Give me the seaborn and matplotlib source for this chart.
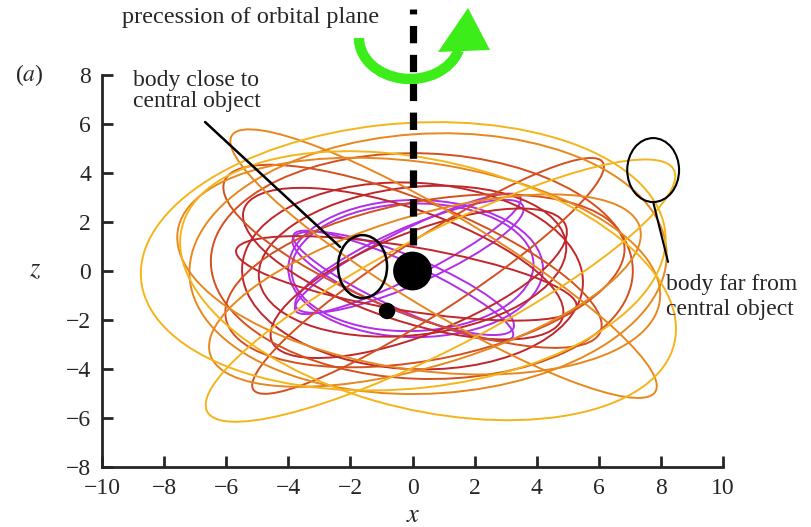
import numpy as np
import pandas as pd
import matplotlib
matplotlib.use("Agg")
import matplotlib.pyplot as plt
from matplotlib.patches import Ellipse, Arc, Polygon
import seaborn as sns

# ---- orbit loops: centre (x, z), semi-axes, tilt (deg), colour group ----
orbit_cx    = [0.1, 0.0, -0.15, -0.1, -0.3, -0.3,
               0.0, -0.3, 0.2, 0.0, -0.2,
               0.3, 0.5, 0.0, 0.4,
               0.5, 1.0, 0.4, 0.2,
               -0.3, 0.9, 0.5]
orbit_cz    = [0.1, 0.15, 0.7, 0.6, -0.6, -0.5,
               -0.2, 0.3, -0.5, 0.4, -0.3,
               0.2, -0.2, 0.6, -0.4,
               0.3, 0.3, -0.8, 0.2,
               0.6, -0.8, -0.6]
orbit_a     = [4.1, 3.9, 4.3, 4.2, 4.1, 4.0,
               5.5, 5.6, 5.3, 5.0, 5.6,
               6.8, 7.3, 6.8, 6.6,
               7.7, 8.6, 7.4, 7.9,
               8.5, 9.0, 8.3]
orbit_b     = [2.8, 2.6, 0.9, 1.1, 0.9, 1.1,
               3.8, 2.2, 2.0, 3.0, 1.3,
               4.6, 1.4, 2.2, 3.2,
               5.3, 1.8, 3.0, 4.2,
               5.4, 2.2, 5.0]
orbit_angle = [0, 3, 33, 30, -31, -28,
               -5, -25, 28, 10, -12,
               -3, 40, -28, 15,
               5, -38, 22, -12,
               8, 34, -20]
orbit_group = (["purple"] * 6 + ["darkred"] * 5 + ["redorange"] * 4
               + ["orange"] * 4 + ["yellow"] * 3)

group_colors = {
    "purple": "#b22ee8",
    "darkred": "#c0262a",
    "redorange": "#d4501e",
    "orange": "#e8871e",
    "yellow": "#f4b41a",
}

# central object and close companion
body_x = [0.0, -0.82]
body_z = [0.0, -1.63]
body_size = [780, 140]

x_ticks = [-10, -8, -6, -4, -2, 0, 2, 4, 6, 8, 10]
z_ticks = [-8, -6, -4, -2, 0, 2, 4, 6, 8]

sns.set_style("ticks")
plt.rcParams["font.family"] = ["Liberation Serif", "DejaVu Serif"]
plt.rcParams["mathtext.fontset"] = "stix"

fig = plt.figure(figsize=(8.11, 5.27), dpi=100)
ax = fig.add_axes([0.1258, 0.1138, 0.7657, 0.7439])

orbits = pd.DataFrame({
    "cx": orbit_cx, "cz": orbit_cz, "a": orbit_a, "b": orbit_b,
    "angle": orbit_angle, "group": orbit_group,
})
for _, row in orbits.iterrows():
    ax.add_patch(Ellipse((row.cx, row.cz), 2 * row.a, 2 * row.b, angle=row.angle,
                         fill=False, ec=group_colors[row.group], lw=1.4, zorder=2))

bodies = pd.DataFrame({"x": body_x, "z": body_z, "s": body_size})
sns.scatterplot(data=bodies, x="x", y="z", size="s", sizes=(140, 780),
                color="black", edgecolor="none", legend=False, ax=ax, zorder=5)

# precession axis
ax.plot([0, 0], [1.05, 10.7], color="black", lw=5.2, dashes=(2.4, 1.6),
        clip_on=False, zorder=4, solid_capstyle="butt", dash_capstyle="butt")

# annotation rings
ax.add_patch(Ellipse((-1.61, 0.18), 1.58, 2.57, fill=False, ec="black", lw=1.8, zorder=6))
ax.plot([-6.68, -2.33], [6.08, 0.98], color="black", lw=1.8, zorder=6)
ax.add_patch(Ellipse((7.75, 4.12), 1.67, 2.61, fill=False, ec="black", lw=1.5, zorder=6,
                     clip_on=False))
ax.plot([7.75, 8.23], [2.82, 0.37], color="black", lw=1.5, zorder=6, clip_on=False)

ax.set_xlim(-10, 10)
ax.set_ylim(-8, 8)
ax.set_xticks(x_ticks)
ax.set_yticks(z_ticks)
ax.set_xticklabels([f"\u2212{abs(v)}" if v < 0 else str(v) for v in x_ticks])
ax.set_yticklabels([f"\u2212{abs(v)}" if v < 0 else str(v) for v in z_ticks])
ax.tick_params(direction="in", length=8, width=2, labelsize=17, pad=8)
sns.despine(ax=ax)
for sp in ("left", "bottom"):
    ax.spines[sp].set_linewidth(2)
ax.set_xlabel("")
ax.set_ylabel("")

# figure text
fig.text(35 / 811, 1 - 270 / 527, "$z$", fontsize=19, ha="center", va="center")
fig.text(413 / 811, 1 - 516 / 527, "$x$", fontsize=19, ha="center", va="center")
fig.text(29 / 811, 1 - 75 / 527, "($a$)", fontsize=17, ha="center", va="center")
fig.text(122 / 811, 1 - 17 / 527, "precession of orbital plane", fontsize=17.5,
         ha="left", va="center")
fig.text(133 / 811, 1 - 91 / 527, "body close to\ncentral object", fontsize=17,
         ha="left", va="center", linespacing=1.05)
fig.text(666 / 811, 1 - 297 / 527, "body far from\ncentral object", fontsize=17,
         ha="left", va="center", linespacing=1.2)

# green precession arrow drawn on a pixel-space overlay
over = fig.add_axes([0, 0, 1, 1], zorder=10)
over.set_xlim(0, 811)
over.set_ylim(527, 0)
over.axis("off")
green = "#3ded1a"
over.add_patch(Arc((410, 38), 102, 82, theta1=14, theta2=180, color=green, lw=7.5,
                   capstyle="butt"))
over.add_patch(Polygon([(438, 52), (468, 8), (490, 50)], closed=True, color=green, lw=0))

fig.savefig("out.png", dpi=100)
